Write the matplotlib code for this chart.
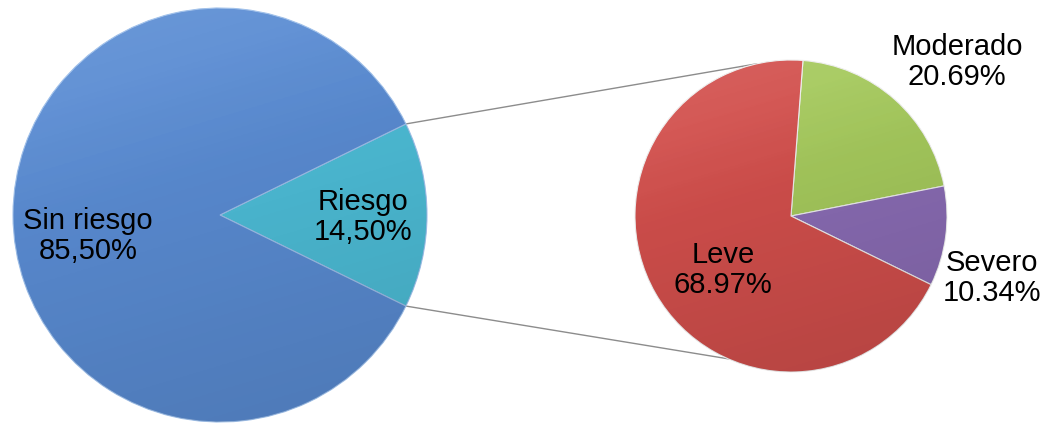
import numpy as np
import matplotlib.pyplot as plt

plt.rcParams['font.family'] = ['Liberation Sans', 'DejaVu Sans']

# main pie
main_labels = ['Riesgo', 'Sin riesgo']
main_values = [14.50, 85.50]
main_text = ['14,50%', '85,50%']
main_colors = ['#4DBDD7', '#5A8CD3']

# secondary pie (breakdown of Riesgo)
sub_labels = ['Moderado', 'Severo', 'Leve']
sub_values = [20.69, 10.34, 68.97]
sub_colors = ['#A5C95C', '#8A6CB4', '#D24F4C']

fig = plt.figure(figsize=(10.51, 4.23), dpi=100)
ax = fig.add_axes([0, 0, 1, 1])

c1, r1 = (220, 215), 207
c2, r2 = (791, 216), 156

# y axis is flipped below, so angles appear mirrored on screen
w1, _ = ax.pie(main_values, colors=main_colors, center=c1, radius=r1,
               startangle=main_values[0] / 100 * 180, counterclock=False,
               wedgeprops=dict(edgecolor='#9FC0EA', linewidth=0.8), frame=True)
w2, _ = ax.pie(sub_values, colors=sub_colors, center=c2, radius=r2,
               startangle=-85.6, counterclock=True,
               wedgeprops=dict(edgecolor='#EEEEEE', linewidth=0.8), frame=True)

# soft shading over each wedge
yy, xx = np.mgrid[0:1:200j, 0:1:200j]
shade = np.zeros((200, 200, 4))
shade[..., 3] = np.clip((yy + 0.3 * xx) * 0.13 - 0.03, 0, 0.12)
hl = np.zeros((200, 200, 4))
hl[..., :3] = 1.0
hl[..., 3] = np.clip((0.55 - yy - 0.3 * xx) * 0.2, 0, 0.1)
for wedges, (cx, cy), r in [(w1, c1, r1), (w2, c2, r2)]:
    ext = (cx - r, cx + r, cy + r, cy - r)
    for w in wedges:
        for img in (shade, hl):
            im = ax.imshow(img, extent=ext, origin='upper', zorder=w.get_zorder() + 0.1)
            im.set_clip_path(w)

ax.set_xlim(0, 1051)
ax.set_ylim(423, 0)
ax.set_aspect('equal')
ax.axis('off')

# connector lines from the Riesgo wedge to the secondary pie
half = np.deg2rad(main_values[0] / 100 * 180)
p_top = (c1[0] + r1 * np.cos(half), c1[1] - r1 * np.sin(half))
p_bot = (c1[0] + r1 * np.cos(half), c1[1] + r1 * np.sin(half))
a_top, a_bot = np.deg2rad(102.7), np.deg2rad(-113.7)
q_top = (c2[0] + r2 * np.cos(a_top), c2[1] - r2 * np.sin(a_top))
q_bot = (c2[0] + r2 * np.cos(a_bot), c2[1] - r2 * np.sin(a_bot))
ax.plot([p_top[0], q_top[0]], [p_top[1], q_top[1]], color='#8C8C8C', lw=1, zorder=0)
ax.plot([p_bot[0], q_bot[0]], [p_bot[1], q_bot[1]], color='#8C8C8C', lw=1, zorder=0)

fs = 21
ax.text(363, 217, f'{main_labels[0]}\n{main_text[0]}', ha='center', va='center', fontsize=fs,
        linespacing=1.05, zorder=10)
ax.text(88, 236, f'{main_labels[1]}\n{main_text[1]}', ha='center', va='center', fontsize=fs,
        linespacing=1.05, zorder=10)
sub_pos = [(957, 62), (992, 278), (723, 270)]
for lab, val, (x, y) in zip(sub_labels, sub_values, sub_pos):
    ax.text(x, y, f'{lab}\n{val:.2f}%', ha='center', va='center', fontsize=fs,
            linespacing=1.05, zorder=10)

fig.savefig('out.png', dpi=100, facecolor='white')
